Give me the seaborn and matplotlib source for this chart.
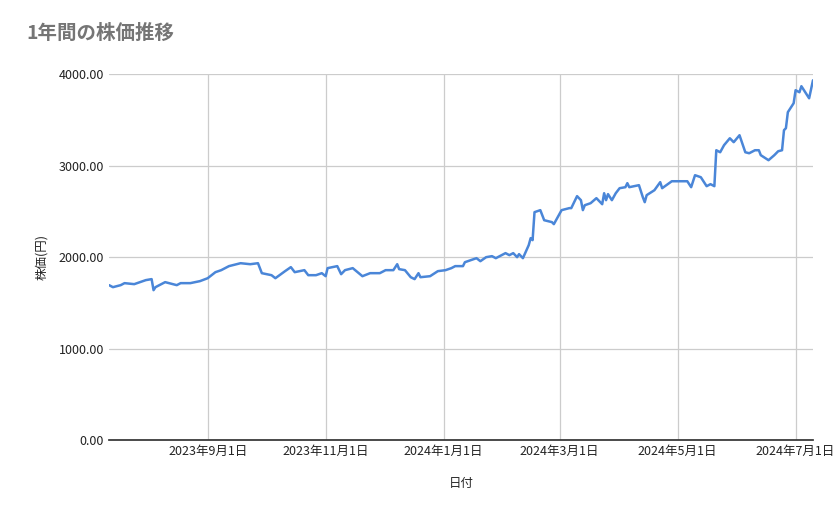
import matplotlib
matplotlib.use("Agg")
import matplotlib.pyplot as plt
import seaborn as sns
import pandas as pd
import matplotlib.dates as mdates
from matplotlib.ticker import FuncFormatter

dates = ["2023-07-12","2023-07-14","2023-07-18","2023-07-20","2023-07-25","2023-07-31","2023-08-03","2023-08-04","2023-08-05","2023-08-10","2023-08-16","2023-08-18","2023-08-23","2023-08-28",
"2023-09-01","2023-09-05","2023-09-08","2023-09-12","2023-09-18","2023-09-23","2023-09-27","2023-09-29","2023-10-04","2023-10-06","2023-10-11","2023-10-14","2023-10-16","2023-10-21","2023-10-23","2023-10-27","2023-10-30","2023-11-01","2023-11-02",
"2023-11-07","2023-11-09","2023-11-11","2023-11-15","2023-11-20","2023-11-24","2023-11-29","2023-12-02","2023-12-06","2023-12-08","2023-12-09","2023-12-12","2023-12-15","2023-12-17","2023-12-19","2023-12-20","2023-12-25","2023-12-29",
"2024-01-02","2024-01-05","2024-01-07","2024-01-11","2024-01-12","2024-01-18","2024-01-20","2024-01-23","2024-01-26","2024-01-28","2024-02-02","2024-02-04","2024-02-06","2024-02-08","2024-02-09","2024-02-11","2024-02-14","2024-02-15","2024-02-16","2024-02-17","2024-02-20","2024-02-22","2024-02-26","2024-02-27",
"2024-03-02","2024-03-06","2024-03-07","2024-03-09","2024-03-10","2024-03-12","2024-03-13","2024-03-14","2024-03-17","2024-03-20","2024-03-23","2024-03-24","2024-03-25","2024-03-26","2024-03-28","2024-03-30","2024-04-01","2024-04-04","2024-04-05","2024-04-06","2024-04-11","2024-04-13","2024-04-14","2024-04-15","2024-04-19","2024-04-22","2024-04-23","2024-04-28",
"2024-05-01","2024-05-06","2024-05-08","2024-05-10","2024-05-13","2024-05-14","2024-05-16","2024-05-18","2024-05-20","2024-05-21","2024-05-23","2024-05-25","2024-05-28","2024-05-30","2024-06-02","2024-06-05","2024-06-07","2024-06-10","2024-06-12","2024-06-13","2024-06-17","2024-06-20","2024-06-22","2024-06-24","2024-06-25","2024-06-26","2024-06-27","2024-06-30",
"2024-07-01","2024-07-03","2024-07-04","2024-07-07","2024-07-08","2024-07-10"]
prices = [1694,1672,1694,1716,1705,1749,1760,1639,1672,1727,1694,1716,1716,1738,
1770,1836,1858,1902,1934,1923,1934,1825,1803,1770,1847,1891,1836,1858,1803,1803,1825,1792,1880,
1902,1814,1858,1880,1792,1825,1825,1858,1858,1923,1869,1858,1781,1760,1825,1781,1792,1847,
1858,1880,1902,1902,1945,1989,1956,2000,2011,1989,2044,2022,2044,2000,2033,1989,2131,2208,2186,2492,2514,2404,2383,2361,
2514,2536,2536,2623,2667,2623,2514,2568,2590,2645,2579,2699,2623,2689,2623,2699,2754,2765,2809,2765,2787,2656,2601,2678,2732,2820,2754,2830,
2830,2830,2765,2896,2874,2842,2776,2798,2776,3169,3147,3224,3300,3257,3333,3147,3136,3169,3169,3115,3060,3115,3158,3169,3388,3410,3585,3683,
3825,3803,3869,3770,3737,3934]
tick_dates = ["2023-09-01","2023-11-01","2024-01-01","2024-03-01","2024-05-01","2024-07-01"]
tick_labels = ["2023年9月1日","2023年11月1日","2024年1月1日","2024年3月1日","2024年5月1日","2024年7月1日"]

sns.set_theme(style="whitegrid")
plt.rcParams['font.family'] = ['Noto Sans CJK JP', 'DejaVu Sans']

df = pd.DataFrame({"日付": pd.to_datetime(dates), "株価": prices})
fig = plt.figure(figsize=(8.39, 5.19), dpi=100)
ax = fig.add_axes([0.13, 0.152, 0.839, 0.705])
sns.lineplot(data=df, x="日付", y="株価", ax=ax, color="#4a86d8", linewidth=1.8)
ax.set_xlim(pd.Timestamp("2023-07-12"), pd.Timestamp("2024-07-10"))
ax.set_ylim(0, 4000)
ax.set_yticks([0, 1000, 2000, 3000, 4000])
ax.yaxis.set_major_formatter(FuncFormatter(lambda v, p: f"{v:.2f}"))
ax.set_xticks(pd.to_datetime(tick_dates))
ax.set_xticklabels(tick_labels)
ax.tick_params(labelsize=9, colors="#222222", length=0)
ax.grid(True, color="#cccccc", linewidth=0.9)
for s in ["top", "right", "left"]:
    ax.spines[s].set_visible(False)
ax.spines["bottom"].set_color("#333333")
ax.set_xlabel("日付", fontsize=9, labelpad=14)
ax.set_ylabel("株価(円)", fontsize=9, labelpad=8)
fig.text(0.032, 0.925, "1年間の株価推移", fontsize=14, color="#757575", fontweight="bold")
fig.savefig("out.png", dpi=100)
